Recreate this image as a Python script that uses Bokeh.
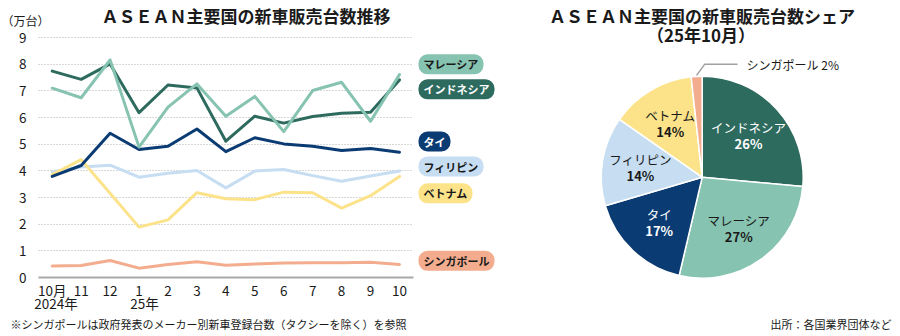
import math
from bokeh.plotting import figure
from bokeh.models import Range1d, FixedTicker, Label, ColumnDataSource, Grid
from bokeh.layouts import row
from bokeh.embed import file_html
from bokeh.resources import INLINE
from bokeh.core.properties import value

# ---------------- data ----------------
months = ["10月", "11", "12", "1", "2", "3", "4", "5", "6", "7", "8", "9", "10"]
year_labels = ["2024年", "25年"]
y_ticks = [0, 1, 2, 3, 4, 5, 6, 7, 8, 9]

malaysia = [7.10, 6.74, 8.16, 4.89, 6.39, 7.26, 6.05, 6.79, 5.47, 7.01, 7.32, 5.86, 7.61]
indonesia = [7.74, 7.43, 8.01, 6.18, 7.22, 7.11, 5.11, 6.05, 5.79, 6.04, 6.16, 6.20, 7.41]
thailand = [3.79, 4.20, 5.41, 4.80, 4.92, 5.57, 4.72, 5.24, 5.01, 4.92, 4.76, 4.84, 4.70]
philippines = [3.97, 4.14, 4.21, 3.76, 3.91, 4.01, 3.36, 3.99, 4.05, 3.82, 3.61, 3.81, 3.99]
vietnam = [3.86, 4.42, 3.16, 1.89, 2.16, 3.18, 2.95, 2.92, 3.20, 3.18, 2.60, 3.07, 3.79]
singapore = [0.43, 0.45, 0.64, 0.35, 0.49, 0.59, 0.46, 0.51, 0.54, 0.55, 0.55, 0.57, 0.49]

series_names = ["マレーシア", "インドネシア", "タイ", "フィリピン", "ベトナム", "シンガポール"]
series_values = [malaysia, indonesia, thailand, philippines, vietnam, singapore]
series_colors = ["#86c3b1", "#2e6b5f", "#0b3b73", "#c6ddf2", "#fce38a", "#f3ad8e"]
pill_text_colors = ["#1a1a1a", "#ffffff", "#ffffff", "#1a1a1a", "#1a1a1a", "#1a1a1a"]

pie_names = ["インドネシア", "マレーシア", "タイ", "フィリピン", "ベトナム", "シンガポール"]
pie_share_pct = [26, 27, 17, 14, 14, 2]

FONT = "Noto Sans CJK JP"

# ---------------- line chart (frame = whole canvas, axes at fixed locations) ----------------
W1, H = 495, 336
FL, FR, FT, FB = 38, 413, 37, 277          # pixel box of the plotting area
X0, X1 = -0.474, 12.484                     # data extent of that box
Y0, Y1 = 0, 9


def xd(px):
    return X0 + (px - FL) * (X1 - X0) / (FR - FL)


def yd(py):
    return Y0 + (FB - py) * (Y1 - Y0) / (FB - FT)


p = figure(width=W1, height=H, x_range=Range1d(xd(0), xd(W1)), y_range=Range1d(yd(H), yd(0)),
           output_backend="svg", toolbar_location=None, min_border=0)
p.outline_line_color = None
p.background_fill_color = "white"
p.border_fill_color = "white"
# keep only the horizontal grid
p.center = [r for r in p.center if not (isinstance(r, Grid) and r.dimension == 0)]
p.ygrid.ticker = FixedTicker(ticks=y_ticks[1:])
p.ygrid.cross_bounds = (X0, X1)
p.ygrid.grid_line_color = "#b0b0b0"
p.ygrid.grid_line_dash = "1 2"
p.ygrid.grid_line_width = 1

# baseline at zero (solid)
p.add_layout(Grid(dimension=1, ticker=FixedTicker(ticks=y_ticks[:1]), cross_bounds=(X0, X1),
                  grid_line_color="#a8a8a8", grid_line_width=2))

for xa in p.xaxis:
    xa.fixed_location = 0
    xa.ticker = FixedTicker(ticks=list(range(len(months))))
    xa.major_label_overrides = {i: m for i, m in enumerate(months)}
    xa.axis_line_color = None
    xa.major_tick_line_color = None
    xa.minor_tick_line_color = None
    xa.major_tick_in = 0
    xa.major_tick_out = 0
    xa.minor_tick_in = 0
    xa.minor_tick_out = 0
    xa.major_label_standoff = 2
    xa.major_label_text_font = FONT
    xa.major_label_text_font_size = "13.5px"
    xa.major_label_text_color = "#1a1a1a"

for ya in p.yaxis:
    ya.fixed_location = xd(0)
    ya.ticker = FixedTicker(ticks=y_ticks)
    ya.axis_line_color = None
    ya.major_tick_line_color = None
    ya.minor_tick_line_color = None
    ya.major_tick_in = 0
    ya.major_tick_out = 0
    ya.minor_tick_in = 0
    ya.minor_tick_out = 0
    ya.major_label_standoff = -26
    ya.major_label_text_align = "right"
    ya.major_label_text_font = FONT
    ya.major_label_text_font_size = "13.5px"
    ya.major_label_text_color = "#1a1a1a"

xs = list(range(len(months)))
draw_order = [3, 4, 5, 2, 1, 0]
for i in draw_order:
    p.line(xs, series_values[i], line_color=series_colors[i], line_width=3,
           line_join="round", line_cap="round")


def add_label(fig, x, y, text, size, align="left", baseline="middle", color="#1a1a1a",
              style="normal", **kw):
    fig.add_layout(Label(x=x, y=y, text=text, text_font=FONT, text_font_size=size,
                         text_align=align, text_baseline=baseline, text_color=color,
                         text_font_style=style, **kw))


# titles / notes (left)
add_label(p, xd(245.5), yd(15), "ＡＳＥＡＮ主要国の新車販売台数推移", "17px", align="center", style="bold")
add_label(p, xd(1), yd(19.5), "（万台）", "12px")
add_label(p, xd(55.5), yd(302.5), year_labels[0], "13.5px", align="center")
add_label(p, xd(144), yd(302.5), year_labels[1], "13.5px", align="center")
add_label(p, xd(10), yd(323.5), "※シンガポールは政府発表のメーカー別新車登録台数（タクシーを除く）を参照", "11px")

# legend pills
pill_y_px = [63.8, 88.8, 141, 166, 192.8, 260.3]
for name, col, tcol, py in zip(series_names, series_colors, pill_text_colors, pill_y_px):
    p.add_layout(Label(x=xd(418), y=yd(py), text=name, text_font=FONT, text_font_size="11px",
                       text_font_style="bold", text_color=tcol, text_align="left",
                       text_baseline="middle", background_fill_color=col,
                       background_fill_alpha=1.0, border_radius=9, padding=(5, 2)))

# ---------------- pie chart ----------------
W2 = 900 - W1
CX, CY = 701.7, 176.7
R = 101
q = figure(width=W2, height=H, x_range=Range1d(W1 - CX, 900 - CX), y_range=Range1d(CY - H, CY),
           output_backend="svg", toolbar_location=None, min_border=0,
           x_axis_type=None, y_axis_type=None)
q.outline_line_color = None
q.grid.visible = False
q.background_fill_color = "white"
q.border_fill_color = "white"

pie_values = [s[-1] for s in [indonesia, malaysia, thailand, philippines, vietnam, singapore]]
pie_colors = [series_colors[series_names.index(n)] for n in pie_names]
pie_text_colors = [pill_text_colors[series_names.index(n)] for n in pie_names]
total = sum(pie_values)
cum = 0.0
starts, ends, mids = [], [], []
for v in pie_values:
    a0 = math.pi / 2 - 2 * math.pi * cum / total
    cum += v
    a1 = math.pi / 2 - 2 * math.pi * cum / total
    starts.append(a0)
    ends.append(a1)
    mids.append((a0 + a1) / 2)

src = ColumnDataSource(dict(start=starts, end=ends, color=pie_colors))
q.wedge(x=0, y=0, radius=R, start_angle="start", end_angle="end", direction="clock",
        fill_color="color", line_color="white", line_width=1.5, source=src)

lab_r = 0.62 * R
name_x, name_y, pct_y, lab_names, lab_pcts, lab_cols = [], [], [], [], [], []
for i in range(len(pie_names) - 1):
    lx = lab_r * math.cos(mids[i])
    ly = lab_r * math.sin(mids[i])
    name_x.append(lx)
    name_y.append(ly + 8)
    pct_y.append(ly - 8)
    lab_names.append(pie_names[i])
    lab_pcts.append(f"{pie_share_pct[i]}%")
    lab_cols.append(pie_text_colors[i])
lsrc = ColumnDataSource(dict(x=name_x, yn=name_y, yp=pct_y, n=lab_names, pc=lab_pcts, c=lab_cols))
q.text(x="x", y="yn", text="n", text_color="c", text_font=value(FONT), text_font_size="12.5px",
       text_align="center", text_baseline="middle", source=lsrc)
q.text(x="x", y="yp", text="pc", text_color="c", text_font=value(FONT), text_font_size="13px",
       text_font_style="bold", text_align="center", text_baseline="middle", source=lsrc)

# Singapore callout
sm = mids[-1]
sx0, sy0 = (R + 1) * math.cos(sm), (R + 1) * math.sin(sm)
elbow_x, elbow_y = sx0 + 8, sy0 + 11
q.line([sx0, elbow_x, elbow_x + 33], [sy0, elbow_y, elbow_y], line_color="#a0a0a0", line_width=1.5)
add_label(q, elbow_x + 42, elbow_y, f"{pie_names[-1]} {pie_share_pct[-1]}%", "12px")

# titles / notes (right)
add_label(q, 701.5 - CX, CY - 15, "ＡＳＥＡＮ主要国の新車販売台数シェア", "17px", align="center", style="bold")
add_label(q, 700.5 - CX, CY - 33.5, "（25年10月）", "17px", align="center", style="bold")
add_label(q, 891 - CX, CY - 323.5, "出所：各国業界団体など", "11px", align="right")

layout = row(p, q, spacing=0)
open("out.html", "w").write(file_html(layout, INLINE))
